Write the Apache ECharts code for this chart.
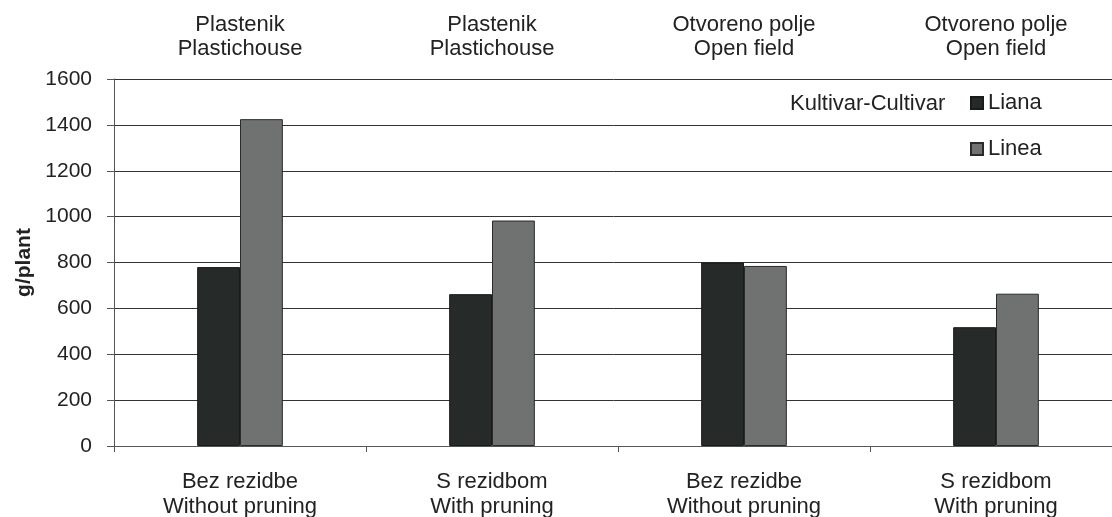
<!DOCTYPE html>
<html>
<head>
<meta charset="utf-8">
<script src="https://cdn.jsdelivr.net/npm/echarts@6/dist/echarts.min.js"></script>
<style>
  html, body { margin: 0; padding: 0; background: #fff; }
  #chart { width: 1112px; height: 517px; }
</style>
</head>
<body>
<div id="chart"></div>
<script>
// kategorije (dolje) i uvjeti uzgoja (gore)
const categories = ['Bez rezidbe\nWithout pruning', 'S rezidbom\nWith pruning', 'Bez rezidbe\nWithout pruning', 'S rezidbom\nWith pruning'];
const topLabels = ['Plastenik\nPlastichouse', 'Plastenik\nPlastichouse', 'Otvoreno polje\nOpen field', 'Otvoreno polje\nOpen field'];
const liana = [780, 662, 800, 518];
const linea = [1425, 983, 785, 664];

const font = 'Liberation Sans, Arial, sans-serif';
const chart = echarts.init(document.getElementById('chart'));

chart.setOption({
  animation: false,
  textStyle: { fontFamily: font },
  title: {
    text: 'Kultivar-Cultivar',
    left: 785, top: 88,
    textStyle: { fontSize: 22, fontWeight: 'normal', color: '#222', fontFamily: font }
  },
  legend: {
    orient: 'vertical',
    left: 965, top: 87,
    itemWidth: 12, itemHeight: 12,
    itemGap: 24,
    icon: 'rect',
    textStyle: { fontSize: 22, lineHeight: 12, color: '#222', fontFamily: font },
    data: ['Liana', 'Linea']
  },
  // zadnja kategorija je odrezana desnim rubom slike
  grid: { left: 114, width: 1008, top: 79, bottom: 71, outerBoundsMode: 'none', containLabel: false },
  xAxis: [
    {
      type: 'category',
      data: categories,
      axisLine: { lineStyle: { color: '#555', width: 1 } },
      axisTick: { show: true, length: 6, lineStyle: { color: '#555' } },
      axisLabel: { fontSize: 22, color: '#222', lineHeight: 25, margin: 23, fontFamily: font }
    },
    {
      type: 'category',
      position: 'top',
      data: topLabels,
      axisLine: { show: false },
      axisTick: { show: false },
      axisLabel: { fontSize: 22, color: '#222', lineHeight: 24, margin: 18, fontFamily: font }
    }
  ],
  yAxis: {
    type: 'value',
    min: 0, max: 1600, interval: 200,
    name: 'g/plant',
    nameLocation: 'middle',
    nameGap: 76,
    nameTextStyle: { fontSize: 21, fontWeight: 'bold', color: '#222', fontFamily: font },
    axisLine: { show: true, lineStyle: { color: '#555' } },
    axisTick: { show: true, length: 7, lineStyle: { color: '#555' } },
    axisLabel: { fontSize: 21, color: '#222', margin: 22, fontFamily: font, formatter: v => String(v) },
    splitLine: { lineStyle: { color: '#333', width: 1 } }
  },
  series: [
    {
      name: 'Liana', type: 'bar', data: liana,
      barGap: '0%', barCategoryGap: '66%',
      itemStyle: { color: '#262a28', borderColor: '#1a1a1a', borderWidth: 1 }
    },
    {
      name: 'Linea', type: 'bar', data: linea,
      itemStyle: { color: '#6f7271', borderColor: '#2a2a2a', borderWidth: 1 }
    }
  ]
});
</script>
</body>
</html>
